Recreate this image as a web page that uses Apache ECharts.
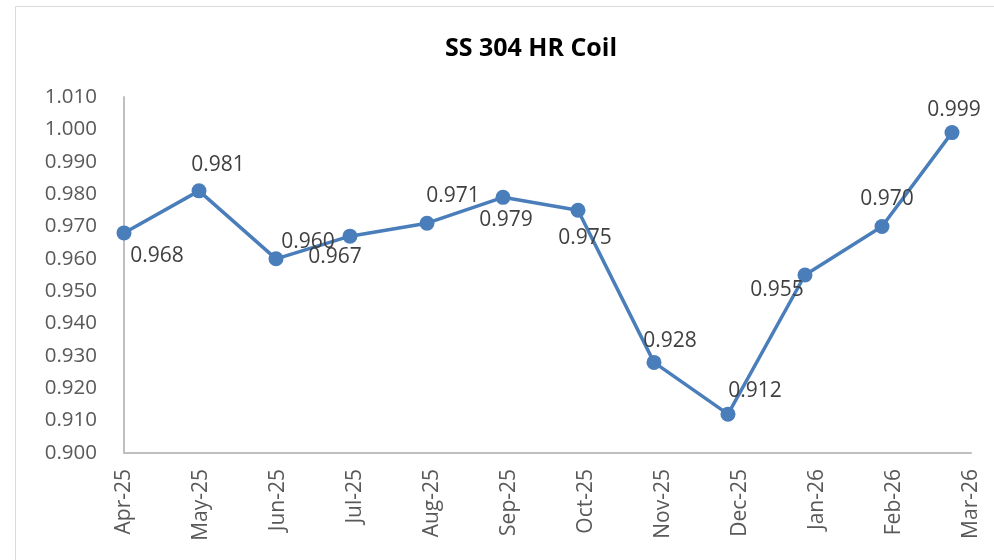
<!DOCTYPE html>
<html>
<head>
<meta charset="utf-8">
<script src="https://cdn.jsdelivr.net/npm/echarts@6/dist/echarts.min.js"></script>
<style>
  html, body { margin: 0; padding: 0; background: #fff; }
  #main { width: 994px; height: 560px; }
</style>
</head>
<body>
<div id="main"></div>
<script>
// month labels on the x axis
const months = ['Apr-25', 'May-25', 'Jun-25', 'Jul-25', 'Aug-25', 'Sep-25',
  'Oct-25', 'Nov-25', 'Dec-25', 'Jan-26', 'Feb-26', 'Mar-26']
// where each reading sits on the month axis (date axis)
const xPos = [0, 0.974, 1.974, 2.935, 3.935, 4.922, 5.896, 6.883, 7.844, 8.844, 9.844, 10.753]
// price readings
const values = [0.968, 0.981, 0.960, 0.967, 0.971, 0.979, 0.975, 0.928, 0.912, 0.955, 0.970, 0.999]
// label placement around each point, px
const labelOffsets = [[33, 23], [19, -26], [32, -17], [-15, 21], [26, -27], [3, 23],
  [7, 28], [16, -21], [27, -23], [-28, 15], [5, -27], [2, -23]]

const font = '"Open Sans", "DejaVu Sans", sans-serif'

const seriesData = values.map((v, i) => ({
  value: [xPos[i], v],
  label: { offset: labelOffsets[i] }
}))

const chart = echarts.init(document.getElementById('main'))
chart.setOption({
  animation: false,
  title: {
    text: 'SS 304 HR Coil',
    left: 526,
    top: 31,
    textAlign: 'center',
    textStyle: { fontFamily: font, fontWeight: 'bold', fontSize: 25, color: '#000' }
  },
  graphic: [{
    type: 'rect',
    shape: { x: 15.5, y: 6.5, width: 1000, height: 600 },
    style: { fill: 'none', stroke: '#d9d9d9', lineWidth: 1 },
    silent: true
  }],
  grid: { left: 124, right: 23, top: 97, bottom: 107 },
  xAxis: {
    type: 'value',
    min: 0,
    max: 11,
    interval: 1,
    axisLine: { show: true, lineStyle: { color: '#bfbfbf', width: 2 } },
    axisTick: { show: false },
    splitLine: { show: false },
    axisLabel: {
      rotate: 90,
      margin: 16,
      fontFamily: font,
      fontSize: 21,
      color: '#595959',
      formatter: v => months[Math.round(v)] || ''
    }
  },
  yAxis: {
    type: 'value',
    min: 0.9,
    max: 1.01,
    interval: 0.01,
    axisLine: { show: true, lineStyle: { color: '#bfbfbf', width: 2 } },
    axisTick: { show: false },
    splitLine: { show: false },
    axisLabel: {
      margin: 27,
      fontFamily: font,
      fontSize: 20.5,
      color: '#595959',
      formatter: v => v.toFixed(3)
    }
  },
  series: [{
    type: 'line',
    data: seriesData,
    symbol: 'circle',
    symbolSize: 15,
    lineStyle: { color: '#4a7ebb', width: 3.5 },
    itemStyle: { color: '#4a7ebb' },
    label: {
      show: true,
      position: 'inside',
      fontFamily: font,
      fontSize: 21,
      color: '#404040',
      formatter: p => p.value[1].toFixed(3)
    }
  }]
})
</script>
</body>
</html>
